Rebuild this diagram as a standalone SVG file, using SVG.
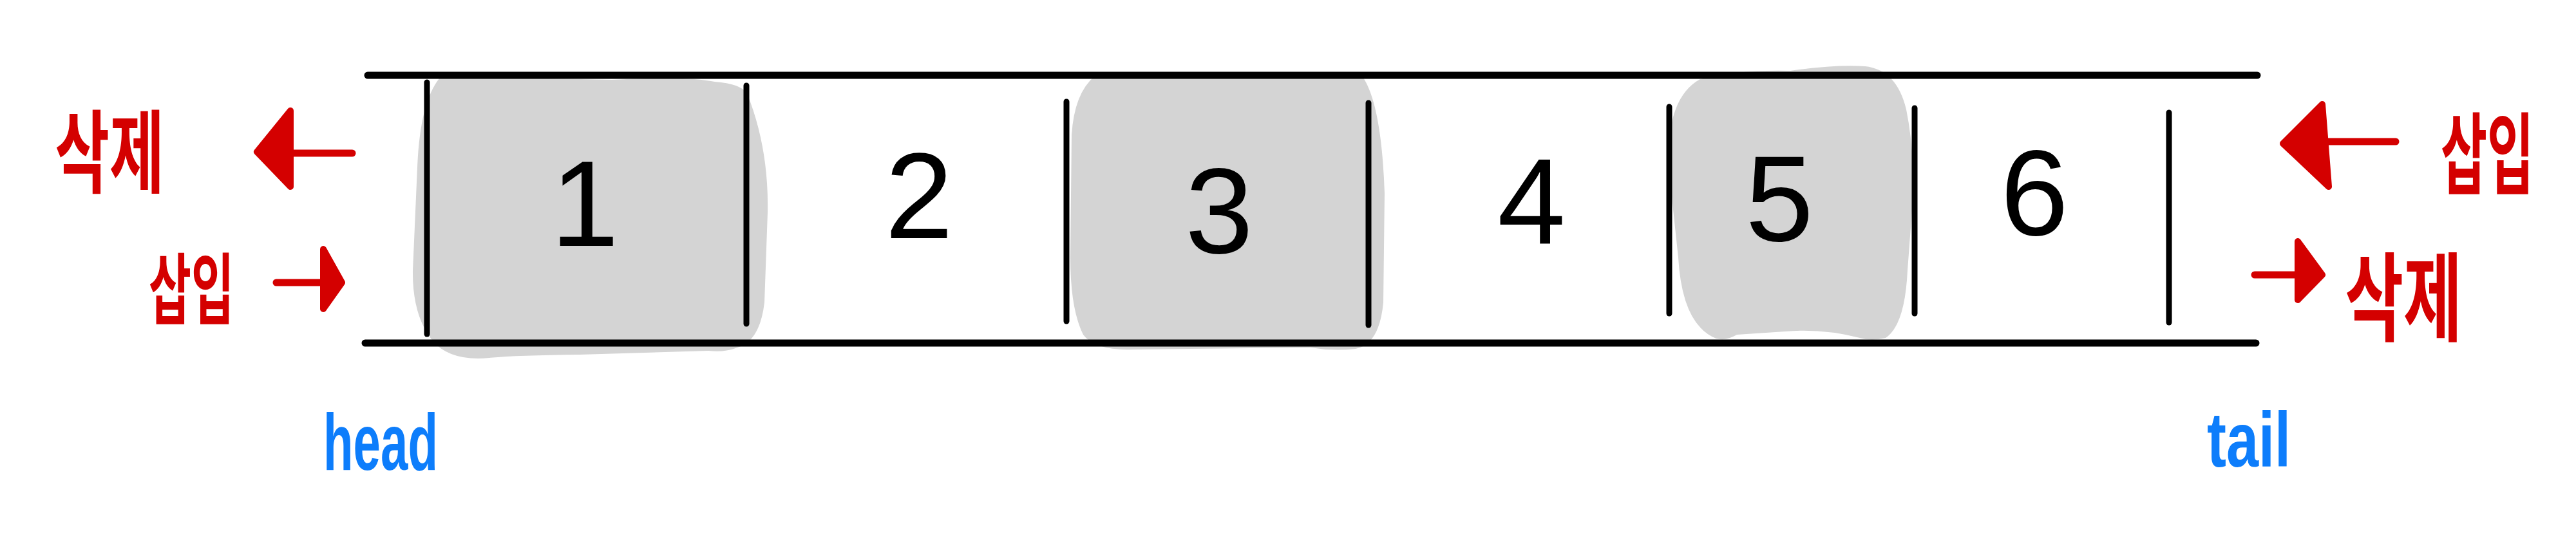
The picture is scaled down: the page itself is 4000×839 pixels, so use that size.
<svg xmlns="http://www.w3.org/2000/svg" width="4000" height="839" viewBox="0 0 4000 839">
<style>
.blob{fill:#d4d4d4;stroke:none}
.rail{stroke:#000;stroke-width:11;stroke-linecap:round;fill:none}
.div{stroke:#000;stroke-width:9;stroke-linecap:round;fill:none}
.digit{font-family:"Liberation Sans",Arial,sans-serif;font-size:190px;fill:#000;text-anchor:middle}
.ko{font-family:"Noto Sans CJK KR","Noto Sans",sans-serif;font-weight:bold;fill:#d40000;text-anchor:middle}
.en{font-family:"Liberation Sans",Arial,sans-serif;font-weight:bold;fill:#0d7dfb;text-anchor:middle}
.shaft{stroke:#d40000;stroke-width:11;stroke-linecap:round;fill:none}
.head{fill:#d40000;stroke:#d40000;stroke-width:10;stroke-linejoin:round}
</style>
<rect width="4000" height="839" fill="#fff"/>

<g id="cell1">
<path class="blob" d="M 682 122 Q 720 116 800 121 L 950 124 Q 1060 118 1110 127 Q 1150 130 1160 145 Q 1194 230 1192 330 L 1187 470 Q 1180 530 1145 540 Q 1125 548 1100 545 L 900 551 Q 800 552 760 556 Q 700 562 672 530 Q 640 490 641 420 L 648 260 Q 652 160 682 122 Z"/>
<text class="digit" x="908" y="382">1</text>
</g>
<g id="cell2">
<text class="digit" x="1427" y="370">2</text>
</g>
<g id="cell3">
<path class="blob" d="M 1700 118 L 2115 118 Q 2145 160 2150 300 L 2148 470 Q 2142 535 2105 542 Q 2070 546 2035 540 L 1760 543 Q 1700 545 1682 520 Q 1662 480 1662 400 L 1664 210 Q 1668 145 1700 118 Z"/>
<text class="digit" x="1893" y="393">3</text>
</g>
<g id="cell4">
<text class="digit" x="2378" y="379">4</text>
</g>
<g id="cell5">
<path class="blob" d="M 2640 123 Q 2700 108 2780 110 Q 2850 100 2896 103 Q 2945 108 2960 170 Q 2972 230 2971 300 L 2962 420 Q 2958 505 2928 525 Q 2905 530 2888 525 Q 2830 510 2772 515 L 2697 520 Q 2680 530 2665 526 Q 2612 505 2606 400 L 2590 250 Q 2590 150 2640 123 Z"/>
<text class="digit" x="2763" y="374">5</text>
</g>
<g id="cell6">
<text class="digit" x="3159" y="365">6</text>
</g>

<g id="frame">
<line class="rail" x1="571" y1="117" x2="3505" y2="117"/>
<line class="rail" x1="567" y1="533" x2="3503" y2="533"/>
<line class="div" x1="663" y1="128" x2="663" y2="519"/>
<line class="div" x1="1159" y1="133" x2="1159" y2="503"/>
<line class="div" x1="1656" y1="158" x2="1656" y2="499"/>
<line class="div" x1="2125" y1="160" x2="2125" y2="505"/>
<line class="div" x1="2592" y1="166" x2="2592" y2="487"/>
<line class="div" x1="2973" y1="168" x2="2973" y2="487"/>
<line class="div" x1="3368" y1="175" x2="3368" y2="501"/>
</g>

<g id="label-left-delete"><text class="ko" transform="translate(170,288) scale(0.66,1)" font-size="140">삭제</text></g>
<g id="label-left-insert"><text class="ko" transform="translate(297,494) scale(0.6,1)" font-size="120">삽입</text></g>
<g id="label-right-insert"><text class="ko" transform="translate(3862,290) scale(0.57,1)" font-size="138">삽입</text></g>
<g id="label-right-delete"><text class="ko" transform="translate(3732,518) scale(0.66,1)" font-size="150">삭제</text></g>
<g id="label-head"><text class="en" transform="translate(591,730) scale(0.61,1)" font-size="125">head</text></g>
<g id="label-tail"><text class="en" transform="translate(3492,725) scale(0.75,1)" font-size="120">tail</text></g>

<g id="connectors">
<line class="shaft" x1="547" y1="238" x2="451" y2="238"/>
<polygon class="head" points="451,172 451,290 399,236"/>
<line class="shaft" x1="429" y1="439" x2="502" y2="439"/>
<polygon class="head" points="502,387 502,480 531,439"/>
<line class="shaft" x1="3720" y1="220" x2="3612" y2="220"/>
<polygon class="head" points="3606,162 3616,290 3545,223"/>
<line class="shaft" x1="3501" y1="427" x2="3568" y2="427"/>
<polygon class="head" points="3568,375 3568,466 3606,427"/>
</g>
</svg>
